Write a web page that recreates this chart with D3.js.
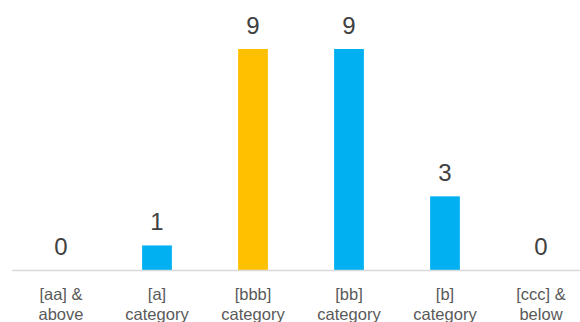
<!DOCTYPE html>
<html>
<head>
<meta charset="utf-8">
<script src="https://cdn.jsdelivr.net/npm/d3@7"></script>
<style>
  body { margin: 0; background: #fff; }
  svg { display: block; font-family: "Liberation Sans", Arial, sans-serif; }
</style>
</head>
<body>
<svg id="canvas" width="580" height="322"></svg>
<script>
// chart data
let categories = [['[aa] &', 'above'], ['[a]', 'category'], ['[bbb]', 'category'], ['[bb]', 'category'], ['[b]', 'category'], ['[ccc] &', 'below']]
let counts = [0, 1, 9, 9, 3, 0]
let highlight = [false, false, true, false, false, false]

let width = 580
let height = 322
let baseline = 270

let canvas = d3.select('#canvas')

let keys = categories.map((c, i) => i)

let xScale = d3.scaleBand()
                .domain(keys)
                .range([13, 589])
                .paddingInner(0.69)
                .paddingOuter(0.345)

let yScale = d3.scaleLinear()
                .domain([0, 9])
                .range([baseline, 49])

// bars
canvas.selectAll('rect.bar')
        .data(counts)
        .enter()
        .append('rect')
        .attr('class', 'bar')
        .attr('x', (d, i) => xScale(i))
        .attr('width', xScale.bandwidth())
        .attr('y', (d) => yScale(d))
        .attr('height', (d) => baseline - yScale(d))
        .attr('fill', (d, i) => highlight[i] ? '#ffc000' : '#00b0f0')

// axis line
canvas.append('line')
        .attr('x1', 12)
        .attr('x2', width)
        .attr('y1', baseline + 0.5)
        .attr('y2', baseline + 0.5)
        .attr('stroke', '#d9d9d9')
        .attr('stroke-width', 1.5)

// value labels
canvas.selectAll('text.value')
        .data(counts)
        .enter()
        .append('text')
        .attr('class', 'value')
        .attr('x', (d, i) => xScale(i) + xScale.bandwidth() / 2)
        .attr('y', (d) => yScale(d) - 15)
        .attr('text-anchor', 'middle')
        .attr('font-size', 24)
        .attr('fill', '#404040')
        .text((d) => d)

// category labels
let catLabel = canvas.selectAll('text.cat')
        .data(categories)
        .enter()
        .append('text')
        .attr('class', 'cat')
        .attr('text-anchor', 'middle')
        .attr('font-size', 16.5)
        .attr('fill', '#595959')

catLabel.selectAll('tspan')
        .data((d, i) => d.map((line) => ({ line: line, i: i })))
        .enter()
        .append('tspan')
        .attr('x', (d) => xScale(d.i) + xScale.bandwidth() / 2)
        .attr('y', (d, j) => 300 + j * 20)
        .text((d) => d.line)
</script>
</body>
</html>
